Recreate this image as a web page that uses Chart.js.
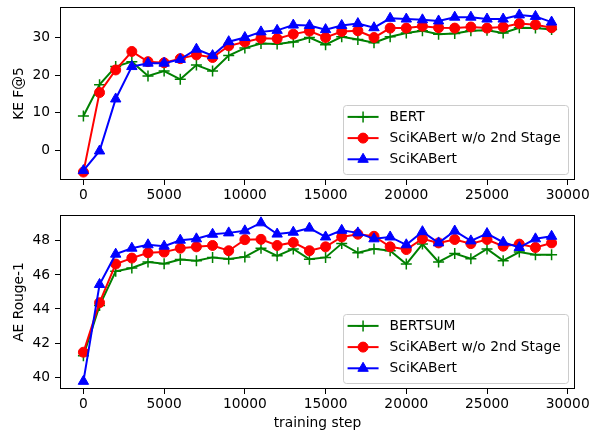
<!DOCTYPE html>
<html>
<head>
<meta charset="utf-8">
<script src="https://cdn.jsdelivr.net/npm/chart.js@4.4.1/dist/chart.umd.min.js"></script>
<style>
    html, body { margin: 0; padding: 0; background: #fff; }
    #wrap { position: relative; width: 600px; height: 435px; }
    .box { position: absolute; left: 0; width: 600px; }
</style>
</head>
<body>
<div id="wrap">
    <div class="box" style="top:0;height:205px"><canvas id="keChart"></canvas></div>
    <div class="box" style="top:205px;height:230px"><canvas id="aeChart"></canvas></div>
</div>
<script>
const steps = [0, 1000, 2000, 3000, 4000, 5000, 6000, 7000, 8000, 9000,
    10000, 11000, 12000, 13000, 14000, 15000, 16000, 17000, 18000, 19000,
    20000, 21000, 22000, 23000, 24000, 25000, 26000, 27000, 28000, 29000];

// KE F@5 (top panel)
const keBert = [9.2, 17.5, 22.3, 23.6, 19.8, 21.1, 18.9, 22.7, 21.1, 25.2,
    27.2, 28.4, 28.3, 28.8, 30.0, 28.1, 30.2, 29.5, 28.6, 30.2,
    31.2, 31.8, 30.9, 31.1, 31.8, 31.9, 31.2, 32.6, 32.5, 32.1];
const keNo2nd = [-5.7, 15.4, 21.4, 26.3, 23.6, 23.3, 24.4, 25.4, 24.7, 27.8,
    28.8, 29.8, 29.7, 30.9, 31.7, 30.0, 31.6, 31.8, 30.0, 32.5,
    32.5, 33.0, 32.6, 32.5, 32.8, 32.5, 32.8, 33.7, 33.4, 32.6];
const keSci = [-5.3, -0.1, 13.7, 22.3, 23.2, 23.2, 24.2, 26.9, 25.2, 28.9,
    30.0, 31.5, 31.9, 33.3, 33.2, 32.1, 33.2, 33.7, 32.6, 35.1,
    34.9, 34.7, 34.4, 35.4, 35.4, 34.9, 34.9, 36.0, 35.6, 34.1];

// AE Rouge-1 (bottom panel)
const aeBertsum = [41.26, 44.2, 46.21, 46.41, 46.76, 46.66, 46.91, 46.84, 47.03, 46.93,
    47.06, 47.57, 47.12, 47.53, 46.92, 47.03, 47.84, 47.30, 47.53, 47.42,
    46.64, 47.81, 46.76, 47.26, 46.95, 47.53, 46.84, 47.34, 47.18, 47.18];
const aeNo2nd = [41.46, 44.37, 46.64, 46.99, 47.30, 47.34, 47.57, 47.65, 47.73, 47.42,
    48.07, 48.09, 47.73, 47.91, 47.42, 47.65, 48.23, 48.39, 48.27, 47.65,
    47.49, 48.12, 47.88, 48.08, 47.84, 48.08, 47.69, 47.81, 47.61, 47.88];
const aeSci = [39.75, 45.44, 47.22, 47.57, 47.77, 47.69, 48.04, 48.12, 48.39, 48.47,
    48.59, 49.06, 48.40, 48.51, 48.75, 48.23, 48.62, 48.47, 48.12, 48.23,
    47.77, 48.54, 47.88, 48.58, 48.00, 48.43, 47.92, 47.61, 48.12, 48.27];

const xTicks = [0, 5000, 10000, 15000, 20000, 25000, 30000];
const keTicks = [0, 10, 20, 30];
const aeTicks = [40, 42, 44, 46, 48];

const FONT = 'DejaVu Sans';
const FSIZE = 13.8;
Chart.defaults.font.family = FONT;
Chart.defaults.font.size = FSIZE;
Chart.defaults.color = '#000';

const pts = vals => vals.map((v, i) => ({ x: steps[i], y: v }));

function series(label, vals, color, style, radius, order) {
    return {
        label,
        data: pts(vals),
        borderColor: color,
        backgroundColor: color,
        borderWidth: 2,
        pointStyle: style,
        pointRadius: radius,
        pointHoverRadius: radius,
        pointBackgroundColor: color,
        pointBorderColor: color,
        pointBorderWidth: style === 'cross' ? 1.5 : 1,
        tension: 0,
        fill: false,
        order
    };
}

// full box round the plot area
const frame = {
    id: 'frame',
    afterDatasetsDraw(chart) {
        const { ctx, chartArea: a } = chart;
        ctx.save();
        ctx.strokeStyle = '#000';
        ctx.lineWidth = 1;
        ctx.strokeRect(Math.round(a.left) + 0.5, Math.round(a.top) + 0.5,
            Math.round(a.right - a.left) - 1, Math.round(a.bottom - a.top) - 1);
        ctx.restore();
    }
};

// legend box in the lower right corner of the plot
const legendBox = {
    id: 'legendBox',
    afterDatasetsDraw(chart) {
        const { ctx, chartArea: a } = chart;
        const sets = chart.data.datasets;
        ctx.save();
        ctx.font = FSIZE + 'px "' + FONT + '"';
        const textW = Math.max(...sets.map(d => ctx.measureText(d.label).width));
        const rowH = 21.2;
        const w = 47 + textW + 7;
        const h = rowH * sets.length + 5;
        const x0 = a.right - 7.3 - w;
        const y0 = a.bottom - 6.5 - h;

        ctx.beginPath();
        ctx.roundRect(Math.round(x0) + 0.5, Math.round(y0) + 0.5, Math.round(w), Math.round(h), 3);
        ctx.fillStyle = 'rgba(255,255,255,0.8)';
        ctx.fill();
        ctx.strokeStyle = '#cccccc';
        ctx.lineWidth = 1;
        ctx.stroke();

        sets.forEach((d, i) => {
            const y = y0 + 12 + i * rowH;
            ctx.beginPath();
            ctx.strokeStyle = d.borderColor;
            ctx.lineWidth = d.borderWidth;
            ctx.moveTo(x0 + 5, y);
            ctx.lineTo(x0 + 36, y);
            ctx.stroke();

            ctx.fillStyle = d.pointBackgroundColor;
            ctx.strokeStyle = d.pointBorderColor;
            ctx.lineWidth = d.pointBorderWidth;
            Chart.helpers.drawPoint(ctx, {
                pointStyle: d.pointStyle,
                radius: d.pointRadius,
                borderWidth: d.pointBorderWidth,
                rotation: 0
            }, x0 + 20.5, y);

            ctx.fillStyle = '#000';
            ctx.textBaseline = 'middle';
            ctx.textAlign = 'left';
            ctx.fillText(d.label, x0 + 47, y + 0.5);
        });
        ctx.restore();
    }
};

function makeChart(id, datasets, opts) {
    const ctx = document.getElementById(id).getContext('2d');
    return new Chart(ctx, {
        type: 'line',
        data: { datasets },
        options: {
            responsive: true,
            maintainAspectRatio: false,
            animation: false,
            events: [],
            layout: { padding: { top: opts.padTop, right: 25, left: 0, bottom: 0 } },
            plugins: {
                legend: { display: false },
                tooltip: { enabled: false }
            },
            scales: {
                x: {
                    type: 'linear',
                    min: -1450,
                    max: 30450,
                    afterBuildTicks: s => { s.ticks = xTicks.map(v => ({ value: v })); },
                    afterFit: s => {
                        s.height = opts.xHeight;
                        s.paddingLeft = 0;
                        s.paddingRight = 0;
                    },
                    ticks: {
                        padding: 2,
                        maxRotation: 0,
                        autoSkip: false,
                        callback: v => String(v)
                    },
                    grid: {
                        drawOnChartArea: false,
                        drawTicks: true,
                        tickLength: 5,
                        color: '#000',
                        lineWidth: 1
                    },
                    border: { display: false },
                    title: {
                        display: !!opts.xTitle,
                        text: opts.xTitle || '',
                        padding: { top: 0, bottom: 3 }
                    }
                },
                y: {
                    min: opts.yMin,
                    max: opts.yMax,
                    afterBuildTicks: s => { s.ticks = opts.yTicks.map(v => ({ value: v })); },
                    afterFit: s => {
                        s.width = 60;
                        s.paddingTop = 0;
                        s.paddingBottom = 0;
                    },
                    ticks: { padding: 5, callback: v => String(v) },
                    grid: {
                        drawOnChartArea: false,
                        drawTicks: true,
                        tickLength: 5,
                        color: '#000',
                        lineWidth: 1
                    },
                    border: { display: false },
                    title: {
                        display: true,
                        text: opts.yTitle,
                        padding: { top: 11, bottom: 0 }
                    }
                }
            }
        },
        plugins: [frame, legendBox]
    });
}

makeChart('keChart', [
    series('BERT', keBert, 'green', 'cross', 5.5, 3),
    series('SciKABert w/o 2nd Stage', keNo2nd, 'red', 'circle', 5, 2),
    series('SciKABert', keSci, 'blue', 'triangle', 6, 1)
], { padTop: 6, xHeight: 25, yMin: -7.8, yMax: 38.1, yTicks: keTicks, yTitle: 'KE F@5' });

makeChart('aeChart', [
    series('BERTSUM', aeBertsum, 'green', 'cross', 5.5, 3),
    series('SciKABert w/o 2nd Stage', aeNo2nd, 'red', 'circle', 5, 2),
    series('SciKABert', aeSci, 'blue', 'triangle', 6, 1)
], { padTop: 10, xHeight: 46, yMin: 39.3, yMax: 49.52, yTicks: aeTicks, yTitle: 'AE Rouge-1', xTitle: 'training step' });
</script>
</body>
</html>
